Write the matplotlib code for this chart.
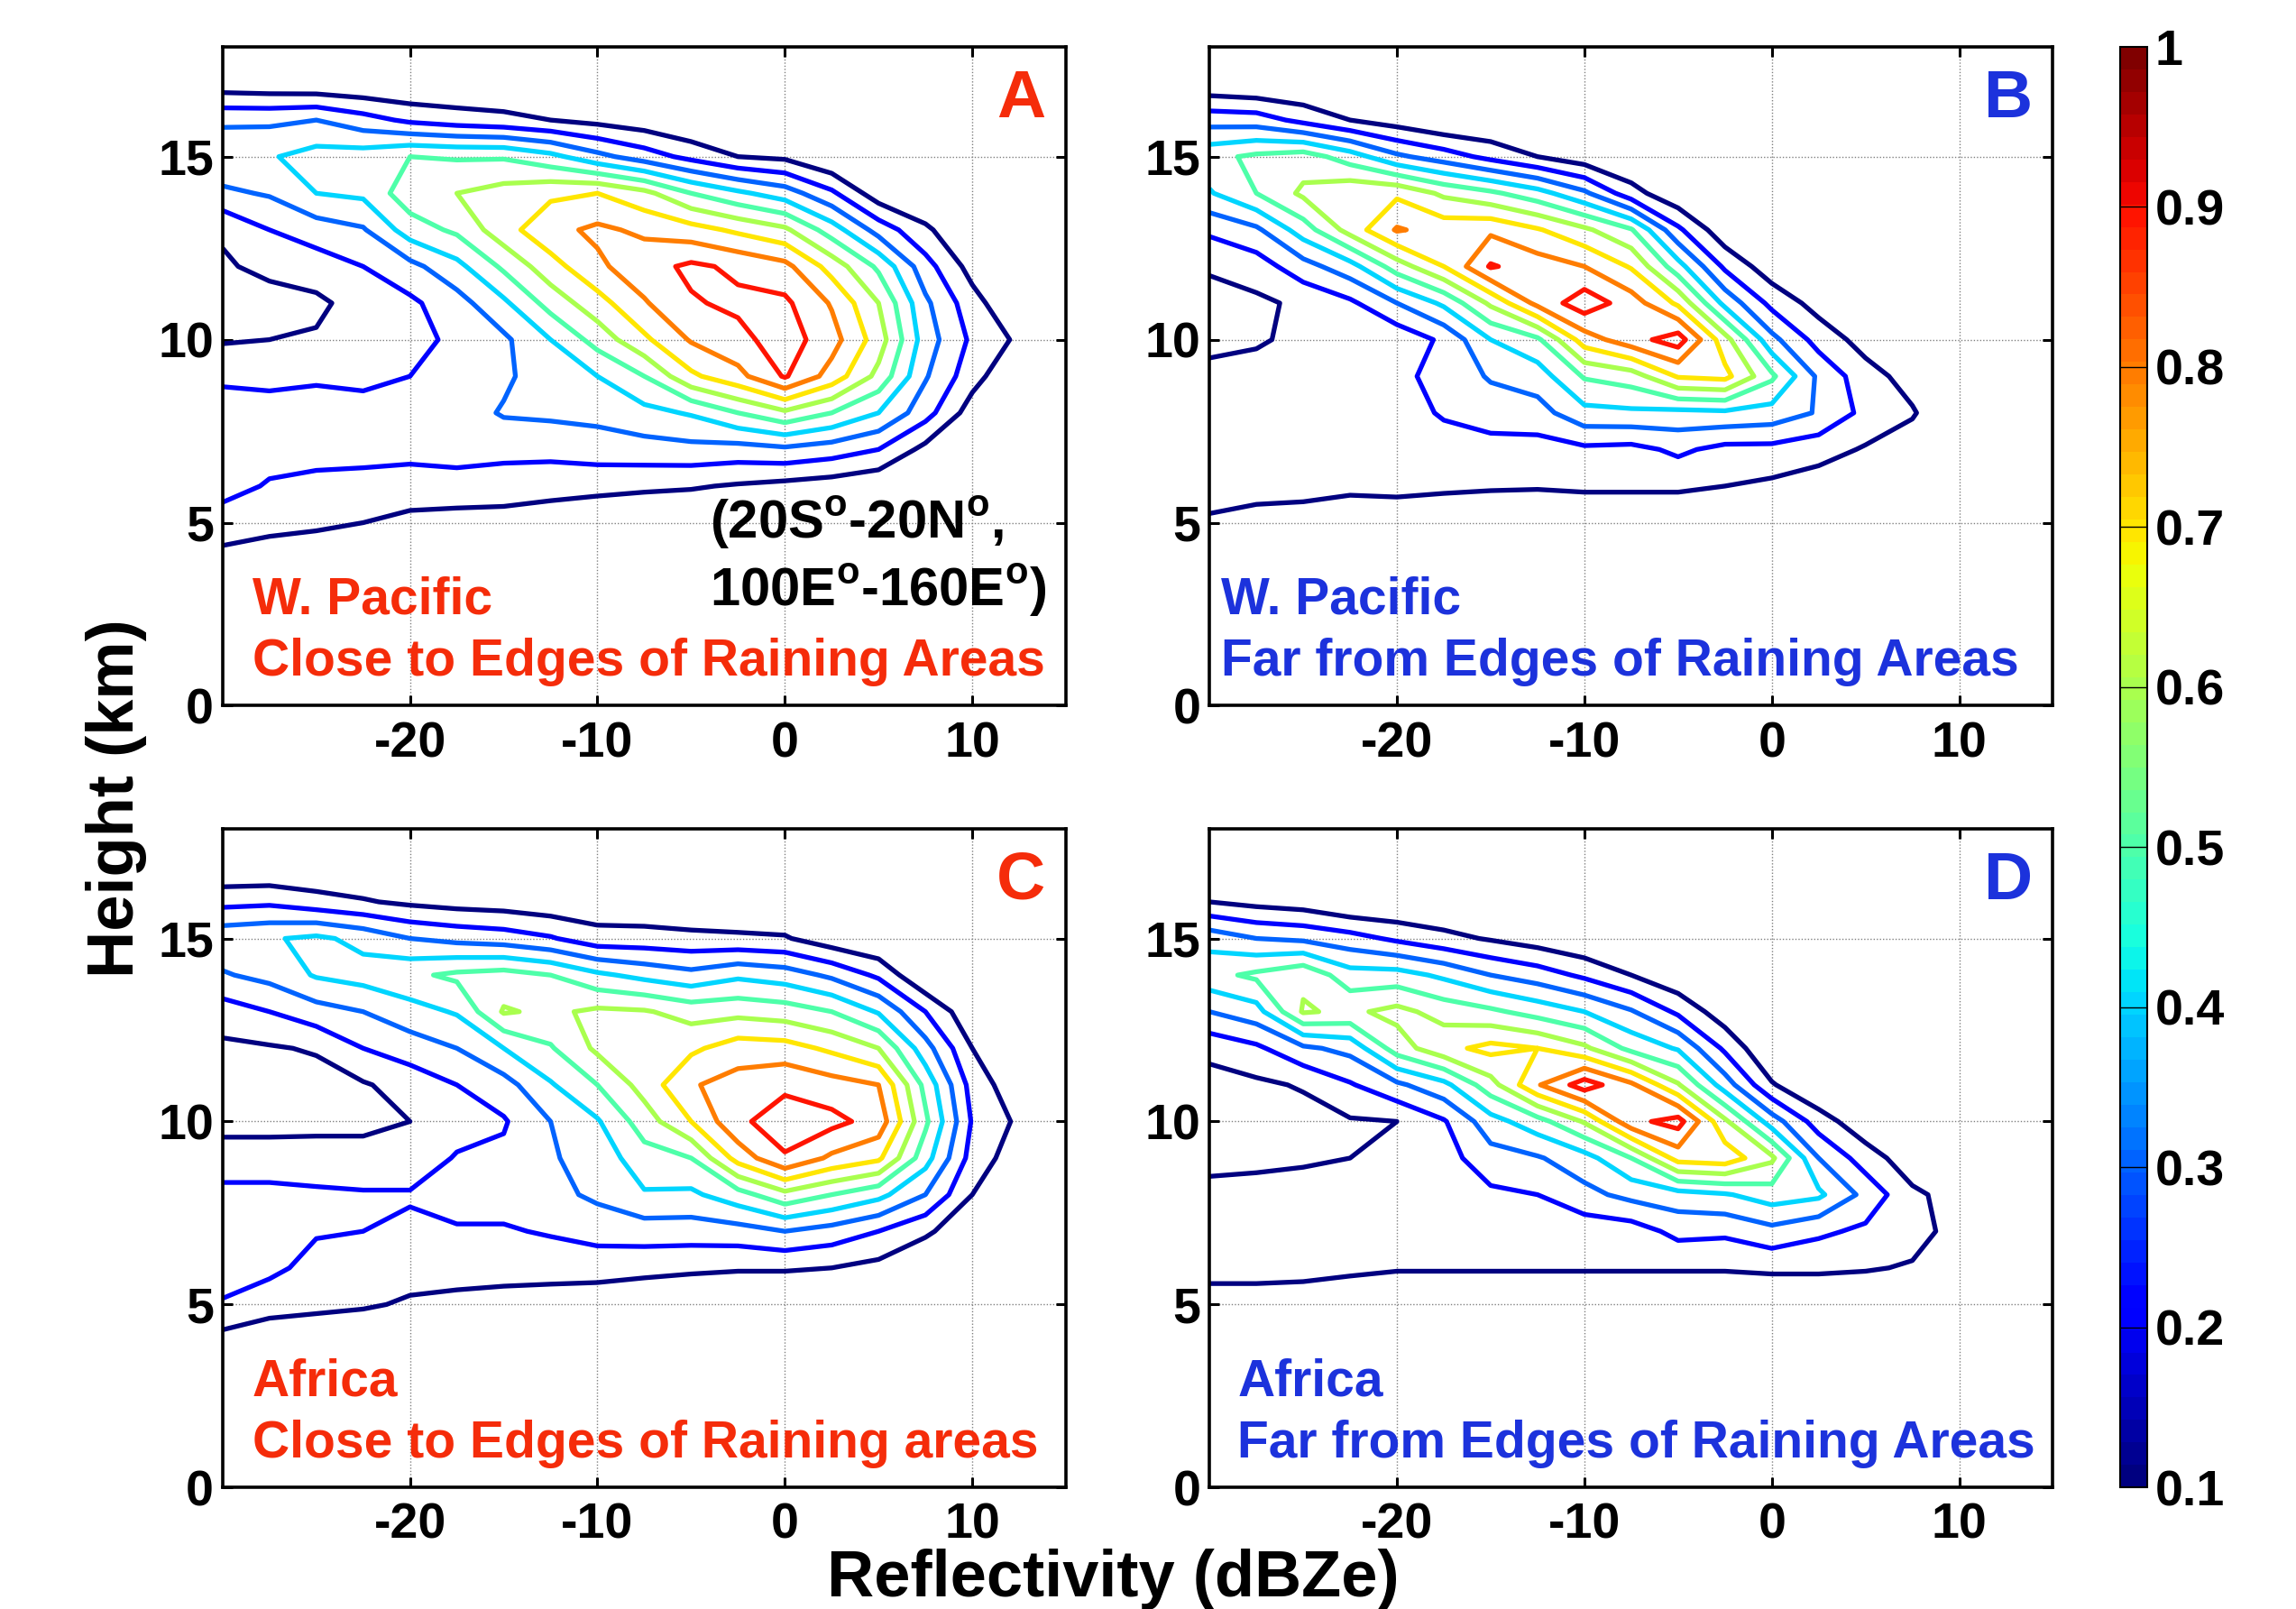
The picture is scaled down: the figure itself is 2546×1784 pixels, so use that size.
import numpy as np
import matplotlib
matplotlib.use('Agg')
import matplotlib.pyplot as plt
from matplotlib.colors import Normalize
from matplotlib.cm import ScalarMappable

plt.rcParams['font.family'] = ['Liberation Sans', 'DejaVu Sans']
plt.rcParams['font.weight'] = 'bold'
plt.rcParams['mathtext.fontset'] = 'custom'
plt.rcParams['mathtext.rm'] = 'Liberation Sans:bold'
plt.rcParams['mathtext.bf'] = 'Liberation Sans:bold'
plt.rcParams['axes.unicode_minus'] = False

## grid of the CFAD tables
refl = [-30, -27.5, -25, -22.5, -20, -17.5, -15, -12.5, -10, -7.5, -5, -2.5, 0, 2.5, 5, 7.5, 10, 12.5, 15]
height = [18, 17, 16, 15, 14, 13, 12, 11, 10, 9, 8, 7, 6, 5, 4, 3]
levels = [0.1, 0.2, 0.3, 0.4, 0.5, 0.6, 0.7, 0.8, 0.9]
cbar_ticks = [0.1, 0.2, 0.3, 0.4, 0.5, 0.6, 0.7, 0.8, 0.9, 1.0]
cbar_labels = ['0.1', '0.2', '0.3', '0.4', '0.5', '0.6', '0.7', '0.8', '0.9', '1']

## normalized frequency (x100), rows = height (18 km -> 3 km), cols = reflectivity
cfad_A = [
    [0, 0, 0, 0, 0, 0, 0, 0, 0, 0, 0, 0, 0, 0, 0, 0, 0, 0, 0],
    [4, 3, 2, 1, 0, 0, 0, 0, 0, 0, 0, 0, 0, 0, 0, 0, 0, 0, 0],
    [28, 28, 30, 24, 18, 15, 13, 10, 7, 4, 0, 0, 0, 0, 0, 0, 0, 0, 0],
    [38, 39, 44, 45, 50, 49, 49, 43, 33, 25, 17, 10, 8, 0, 0, 0, 0, 0, 0],
    [28, 31, 40, 42, 56, 60, 64, 68, 70, 63, 50, 42, 35, 22, 4, 0, 0, 0, 0],
    [11, 20, 25, 29, 45, 52, 66, 77, 82, 78, 74, 68, 62, 45, 26, 12, 0, 0, 0],
    [9, 12, 15, 20, 27, 37, 52, 66, 78, 86, 92, 88, 83, 66, 48, 24, 6, 0, 0],
    [6, 7, 8, 14, 18, 26, 38, 54, 66, 79, 89, 92, 92, 79, 60, 32, 14, 0, 0],
    [9, 10, 11, 13, 17, 22, 28, 40, 54, 68, 81, 87, 95, 84, 65, 35, 18, 8, 0],
    [18, 18, 19, 18, 20, 23, 28, 36, 40, 50, 68, 77, 91, 76, 57, 31, 14, 0, 0],
    [25, 23, 23, 23, 25, 25, 31, 32, 33, 37, 41, 50, 58, 50, 40, 24, 5, 0, 0],
    [26, 24, 24, 23, 24, 24, 23, 23, 25, 26, 27, 26, 28, 25, 20, 7, 0, 0, 0],
    [24, 19, 17, 17, 14, 16, 15, 14, 13, 12, 11, 9, 7, 5, 2, 0, 0, 0, 0],
    [15, 13, 12, 10, 8, 6, 6, 4, 2, 0, 0, 0, 0, 0, 0, 0, 0, 0, 0],
    [7, 5, 3, 2, 0, 0, 0, 0, 0, 0, 0, 0, 0, 0, 0, 0, 0, 0, 0],
    [0, 0, 0, 0, 0, 0, 0, 0, 0, 0, 0, 0, 0, 0, 0, 0, 0, 0, 0],
]

cfad_B = [
    [0, 0, 0, 0, 0, 0, 0, 0, 0, 0, 0, 0, 0, 0, 0, 0, 0, 0, 0],
    [2, 0, 0, 0, 0, 0, 0, 0, 0, 0, 0, 0, 0, 0, 0, 0, 0, 0, 0],
    [26, 25, 17, 10, 5, 0, 0, 0, 0, 0, 0, 0, 0, 0, 0, 0, 0, 0, 0],
    [47, 52, 55, 45, 32, 25, 17, 10, 4, 0, 0, 0, 0, 0, 0, 0, 0, 0, 0],
    [39, 50, 62, 68, 68, 58, 52, 44, 32, 14, 2, 0, 0, 0, 0, 0, 0, 0, 0],
    [22, 28, 45, 64, 81, 76, 78, 71, 62, 51, 22, 3, 0, 0, 0, 0, 0, 0, 0],
    [11, 15, 26, 36, 55, 70, 91, 85, 80, 69, 44, 18, 4, 0, 0, 0, 0, 0, 0],
    [7, 8, 12, 18, 30, 42, 62, 83, 96, 85, 68, 37, 17, 6, 0, 0, 0, 0, 0],
    [8, 9, 12, 13, 13, 22, 40, 48, 75, 86, 95, 64, 33, 16, 6, 0, 0, 0, 0],
    [12, 13, 14, 14, 17, 24, 31, 35, 51, 55, 71, 73, 52, 28, 14, 6, 0, 0, 0],
    [13, 14, 15, 15, 16, 21, 25, 26, 37, 38, 37, 38, 36, 29, 17, 11, 0, 0, 0],
    [14, 14, 15, 15, 16, 16, 16, 16, 18, 17, 22, 17, 17, 14, 9, 5, 0, 0, 0],
    [13, 13, 13, 12, 13, 12, 11, 11, 12, 12, 12, 10, 8, 5, 1, 0, 0, 0, 0],
    [9, 7, 6, 4, 3, 2, 3, 0, 0, 0, 0, 0, 0, 0, 0, 0, 0, 0, 0],
    [0, 0, 0, 0, 0, 0, 0, 0, 0, 0, 0, 0, 0, 0, 0, 0, 0, 0, 0],
    [0, 0, 0, 0, 0, 0, 0, 0, 0, 0, 0, 0, 0, 0, 0, 0, 0, 0, 0],
]

cfad_C = [
    [0, 0, 0, 0, 0, 0, 0, 0, 0, 0, 0, 0, 0, 0, 0, 0, 0, 0, 0],
    [0, 0, 0, 0, 0, 0, 0, 0, 0, 0, 0, 0, 0, 0, 0, 0, 0, 0, 0],
    [17, 18, 14, 11, 8, 6, 5, 3, 3, 2, 0, 0, 0, 0, 0, 0, 0, 0, 0],
    [37, 39, 42, 37, 30, 27, 25, 21, 14, 14, 13, 12, 11, 4, 0, 0, 0, 0, 0],
    [29, 33, 41, 44, 48, 52, 54, 50, 42, 37, 33, 38, 35, 28, 18, 0, 0, 0, 0],
    [15, 20, 26, 30, 36, 41, 61, 58, 62, 61, 56, 57, 55, 50, 39, 20, 2, 0, 0],
    [8, 9, 11, 20, 25, 30, 40, 49, 62, 67, 68, 75, 74, 68, 60, 34, 10, 0, 0],
    [5, 6, 6, 9, 14, 20, 26, 39, 50, 64, 79, 84, 88, 84, 80, 47, 16, 3, 0],
    [7, 7, 8, 8, 10, 15, 19, 30, 39, 55, 70, 88, 95, 93, 86, 52, 19, 8, 0],
    [14, 14, 13, 13, 13, 21, 22, 29, 34, 46, 50, 74, 89, 78, 72, 44, 16, 4, 0],
    [23, 23, 22, 21, 21, 24, 24, 27, 32, 39, 38, 46, 57, 50, 43, 30, 10, 0, 0],
    [26, 26, 21, 20, 18, 19, 19, 21, 24, 25, 25, 26, 30, 26, 20, 12, 2, 0, 0],
    [25, 23, 16, 15, 13, 13, 13, 14, 14, 13, 12, 11, 11, 10, 7, 0, 0, 0, 0],
    [19, 13, 12, 11, 9, 8, 7, 5, 4, 2, 0, 0, 0, 0, 0, 0, 0, 0, 0],
    [6, 5, 4, 3, 0, 0, 0, 0, 0, 0, 0, 0, 0, 0, 0, 0, 0, 0, 0],
    [0, 0, 0, 0, 0, 0, 0, 0, 0, 0, 0, 0, 0, 0, 0, 0, 0, 0, 0],
]

cfad_D = [
    [0, 0, 0, 0, 0, 0, 0, 0, 0, 0, 0, 0, 0, 0, 0, 0, 0, 0, 0],
    [0, 0, 0, 0, 0, 0, 0, 0, 0, 0, 0, 0, 0, 0, 0, 0, 0, 0, 0],
    [10, 7, 5, 0, 0, 0, 0, 0, 0, 0, 0, 0, 0, 0, 0, 0, 0, 0, 0],
    [36, 30, 28, 24, 18, 13, 9, 5, 1, 0, 0, 0, 0, 0, 0, 0, 0, 0, 0],
    [47, 52, 58, 44, 44, 38, 30, 25, 18, 10, 2, 0, 0, 0, 0, 0, 0, 0, 0],
    [30, 36, 61, 58, 63, 56, 52, 46, 40, 31, 18, 4, 0, 0, 0, 0, 0, 0, 0],
    [13, 18, 28, 33, 55, 67, 73, 70, 62, 47, 39, 18, 0, 0, 0, 0, 0, 0, 0],
    [6, 8, 11, 19, 28, 37, 56, 79, 95, 82, 61, 35, 11, 0, 0, 0, 0, 0, 0],
    [6, 5, 6, 9, 10, 19, 36, 46, 61, 87, 94, 62, 35, 15, 3, 0, 0, 0, 0],
    [8, 8, 9, 10, 11, 16, 26, 29, 36, 50, 74, 76, 62, 30, 15, 4, 0, 0, 0],
    [12, 13, 13, 13, 13, 15, 18, 20, 27, 33, 36, 39, 45, 42, 27, 12, 6, 0, 0],
    [13, 14, 14, 14, 14, 14, 15, 15, 14, 15, 23, 22, 27, 22, 18, 14, 6, 0, 0],
    [13, 13, 13, 12, 11, 11, 11, 11, 11, 11, 11, 11, 12, 12, 11, 9, 0, 0, 0],
    [6, 6, 5, 3, 0, 0, 0, 0, 0, 0, 0, 0, 0, 0, 0, 0, 0, 0, 0],
    [0, 0, 0, 0, 0, 0, 0, 0, 0, 0, 0, 0, 0, 0, 0, 0, 0, 0, 0],
    [0, 0, 0, 0, 0, 0, 0, 0, 0, 0, 0, 0, 0, 0, 0, 0, 0, 0, 0],
]

red_txt = '#F52C0A'
blue_txt = '#1C32DC'

panels = [
    ## table, axes rect, letter, colour, line1, line2, x of text
    (cfad_A, [0.09694, 0.56142, 0.36735, 0.40946], 'A', red_txt, 'W. Pacific', 'Close to Edges of Raining Areas', -28.4),
    (cfad_B, [0.52679, 0.56142, 0.36735, 0.40946], 'B', blue_txt, 'W. Pacific', 'Far from Edges of Raining Areas', -29.4),
    (cfad_C, [0.09694, 0.07552, 0.36735, 0.40946], 'C', red_txt, 'Africa', 'Close to Edges of Raining areas', -28.4),
    (cfad_D, [0.52679, 0.07552, 0.36735, 0.40946], 'D', blue_txt, 'Africa', 'Far from Edges of Raining Areas', -28.5),
]

cmap = plt.get_cmap('jet', 64)
norm = Normalize(vmin=0.1, vmax=1.0)
X, Y = np.meshgrid(refl, height)

fig = plt.figure(figsize=(25.46, 17.84), dpi=100)

for table, rect, letter, col, line1, line2, xt in panels:
    ax = fig.add_axes(rect)
    Z = np.array(table, dtype=float) / 100.0
    ax.contour(X, Y, Z, levels=levels, cmap=cmap, norm=norm, linewidths=3.8)
    ax.set_xlim(-30, 15)
    ax.set_ylim(0, 18)
    ax.set_xticks([-20, -10, 0, 10])
    ax.set_yticks([0, 5, 10, 15])
    ax.grid(True, ls=(0, (1, 1.5)), color='#808080', lw=1.0)
    ax.tick_params(axis='both', direction='in', top=True, right=True, length=8, width=2.2, labelsize=40)
    ax.tick_params(axis='x', pad=12)
    ax.tick_params(axis='y', pad=7)
    for s in ax.spines.values():
        s.set_linewidth(2.6)
    ax.text(12.6, 16.56, letter, color=col, fontsize=54, fontweight='bold', ha='center', va='center')
    ax.text(xt, 2.88, line1, color=col, fontsize=41, fontweight='bold', ha='left', va='center')
    ax.text(xt, 1.2, line2, color=col, fontsize=41, fontweight='bold', ha='left', va='center')
    if letter == 'A':
        ax.text(-4.0, 5.0, r'(20S$^{\mathrm{o}}$-20N$^{\mathrm{o}}$,', color='k', fontsize=43, ha='left', va='center')
        ax.text(-4.0, 3.15, r'100E$^{\mathrm{o}}$-160E$^{\mathrm{o}}$)', color='k', fontsize=43, ha='left', va='center')

## colorbar
cax = fig.add_axes([0.9235, 0.07552, 0.0118, 0.89536])
cb = fig.colorbar(ScalarMappable(norm=norm, cmap=cmap), cax=cax, ticks=cbar_ticks)
cb.ax.set_yticklabels(cbar_labels)
cb.ax.tick_params(labelsize=40, length=0, pad=6)
cb.outline.set_linewidth(1.5)
for lv in levels[1:]:
    cax.axhline(lv, color='k', lw=1.0)

fig.text(0.0505, 0.504, 'Height (km)', rotation=90, fontsize=52, fontweight='bold', ha='center', va='center')
fig.text(0.4847, 0.008, 'Reflectivity (dBZe)', fontsize=52, fontweight='bold', ha='center', va='baseline')

fig.savefig('out.png', dpi=100)
